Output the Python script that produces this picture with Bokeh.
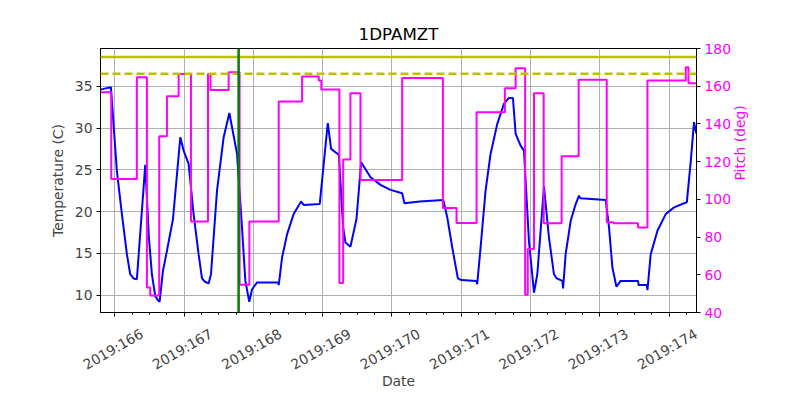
import math
import numpy as np
from bokeh.plotting import figure
from bokeh.models import Range1d, LinearAxis, FixedTicker, Span
from bokeh.embed import file_html
from bokeh.resources import INLINE

# ---------------- data ----------------
title_text = "1DPAMZT"

temp_days = [165.792, 165.942, 166.028, 166.101, 166.173, 166.221, 166.269, 166.317,
             166.38, 166.438, 166.49, 166.534, 166.582, 166.62, 166.645,
             166.694, 166.751, 166.838, 166.944, 166.992, 167.064, 167.136, 167.208,
             167.257, 167.30, 167.353, 167.387, 167.474, 167.57, 167.652, 167.763,
             167.835, 167.883, 167.94, 167.98, 168.05, 168.2, 168.36, 168.365,
             168.413, 168.486, 168.58, 168.688, 168.726, 168.957, 169.073, 169.121,
             169.232, 169.295, 169.328, 169.40, 169.487, 169.555, 169.69, 169.834,
             169.978, 170.147, 170.18, 170.40, 170.74, 170.798, 170.87, 170.951,
             171.0, 171.221, 171.23, 171.279, 171.351, 171.423, 171.52, 171.616,
             171.688, 171.746, 171.785, 171.857, 171.905, 171.977, 172.05, 172.098,
             172.194, 172.266, 172.338, 172.378, 172.46, 172.47, 172.507, 172.58,
             172.652, 172.70, 172.72, 173.085, 173.133, 173.182, 173.24, 173.30,
             173.552, 173.56, 173.68, 173.688, 173.735, 173.832, 173.952, 174.072,
             174.217, 174.256, 174.314, 174.36, 174.396]
temp_vals = [34.6, 34.9, 24.9, 19.7, 14.9, 12.5, 12.0, 11.9,
             19.0, 25.6, 17.0, 12.5, 9.9, 9.4, 9.2,
             12.9, 15.3, 19.1, 28.9, 27.3, 25.7, 19.7, 14.9,
             12.0, 11.6, 11.4, 12.5, 22.5, 28.9, 31.8, 26.9,
             18.1, 11.7, 9.2, 10.7, 11.5, 11.5, 11.5, 11.2,
             14.5, 17.3, 19.7, 21.2, 20.8, 20.9, 30.6, 27.5,
             26.8, 18.1, 16.3, 15.8, 19.1, 25.9, 24.1, 23.2,
             22.6, 22.2, 21.0, 21.2, 21.4, 19.3, 15.7, 12.0,
             11.8, 11.7, 11.3, 15.7, 22.5, 26.9, 30.5, 32.9,
             33.6, 33.6, 29.3, 27.9, 27.3, 16.5, 10.3, 12.5,
             23.0, 16.9, 12.5, 12.0, 11.7, 10.8, 14.9, 18.9,
             20.9, 21.9, 21.6, 21.4, 18.1, 13.3, 11.0, 11.7,
             11.7, 11.2, 11.2, 10.6, 14.9, 17.7, 19.7, 20.5,
             21.0, 21.1, 26.1, 30.7, 29.3]

pitch_days = [165.792, 165.947, 166.317, 166.462, 166.51, 166.64, 166.751, 166.92,
              167.098, 167.344, 167.38, 167.642, 167.80, 167.941, 168.365, 168.702,
              168.943, 168.98, 169.241, 169.295, 169.40, 169.545, 170.147, 170.735,
              170.932, 171.221, 171.63, 171.785, 171.922, 171.96, 172.05, 172.19,
              172.449, 172.695, 173.10, 173.20, 173.552, 173.688, 174.241, 174.28,
              174.396]
pitch_vals = [156.8, 110.8, 164.8, 53.3, 49.0, 133.5, 154.7, 166.5,
              88.2, 166.5, 158.0, 167.4, 54.7, 88.2, 151.9, 165.1,
              163.0, 158.2, 55.6, 121.1, 156.3, 110.2, 164.4, 95.4,
              87.5, 146.2, 158.9, 169.5, 49.4, 73.7, 156.3, 87.3,
              122.8, 163.4, 87.8, 87.3, 85.1, 163.0, 170.1, 161.6,
              161.6]

yellow_limit = 38.5
planning_limit = 36.5
event_day = 167.786

tick_days = [166, 167, 168, 169, 170, 171, 172, 173, 174]
tick_labels = ["2019:166", "2019:167", "2019:168", "2019:169", "2019:170",
               "2019:171", "2019:172", "2019:173", "2019:174"]
temp_ticks = [10, 15, 20, 25, 30, 35]
pitch_ticks = [40, 60, 80, 100, 120, 140, 160, 180]

# ---------------- figure ----------------
FONT = "DejaVu Sans"
FS = "13.9px"
X0, X1 = 165.792, 174.396
Y0, Y1 = 7.92, 39.52
PX_PER_DAY = 596 / (X1 - X0)
LABEL_SHIFT = 27.0 / PX_PER_DAY   # centre rotated labels on their ticks

p = figure(frame_width=596, frame_height=264,
           x_range=Range1d(X0, X1), y_range=Range1d(Y0, Y1),
           output_backend="svg", toolbar_location=None,
           min_border_left=100, min_border_right=88,
           min_border_top=48, min_border_bottom=72)
p.background_fill_color = "white"
p.border_fill_color = "white"
p.outline_line_color = "black"
p.outline_line_width = 1

p.title.text = title_text
p.title.align = "center"
p.title.text_font = FONT
p.title.text_font_size = "16.7px"
p.title.text_font_style = "normal"
p.title.text_color = "black"

minor = list(np.arange(165.75, 174.5001, 0.25))
p.xaxis.ticker = FixedTicker(ticks=tick_days, minor_ticks=minor)
p.xaxis.major_label_overrides = {d: "" for d in tick_days}

p.yaxis.ticker = FixedTicker(ticks=temp_ticks)
p.yaxis.axis_label = "Temperature (C)"

p.extra_y_ranges = {"pitch": Range1d(40, 180)}
raxis = LinearAxis(y_range_name="pitch", axis_label="Pitch (deg)",
                   ticker=FixedTicker(ticks=pitch_ticks))
p.add_layout(raxis, "right")

# label axis: same ticks, range shifted so rotated labels are centred on ticks
p.extra_x_ranges = {"labels": Range1d(X0 - LABEL_SHIFT, X1 - LABEL_SHIFT)}
laxis = LinearAxis(x_range_name="labels", ticker=FixedTicker(ticks=tick_days),
                   axis_label="Date")
laxis.major_label_overrides = {d: l for d, l in zip(tick_days, tick_labels)}
laxis.major_label_orientation = math.pi / 6
p.add_layout(laxis, "below")

for ax in [p.xaxis[0], p.yaxis[0], raxis, laxis]:
    ax.major_label_text_font = FONT
    ax.major_label_text_font_size = FS
    ax.axis_label_text_font = FONT
    ax.axis_label_text_font_size = FS
    ax.axis_label_text_font_style = "normal"
    ax.major_tick_in = 0
    ax.major_tick_out = 4
    ax.minor_tick_in = 0
    ax.minor_tick_out = 2
    ax.axis_line_color = "black"
    ax.major_tick_line_color = "black"
    ax.minor_tick_line_color = "black"
    ax.major_label_standoff = 4
    ax.axis_label_standoff = 6

p.xaxis[0].major_label_standoff = 0
laxis.axis_line_color = None
laxis.major_tick_line_color = None
laxis.minor_tick_line_color = None
laxis.major_tick_out = 0
laxis.minor_tick_out = 0
laxis.major_label_standoff = 16
laxis.axis_label_standoff = -10

raxis.major_label_text_color = "#ff00ff"
raxis.axis_label_text_color = "#ff00ff"
if "axis_label_orientation" in LinearAxis.properties():
    raxis.axis_label_orientation = math.pi / 2
p.yaxis[0].minor_tick_line_color = None
raxis.minor_tick_line_color = None

p.xgrid.grid_line_color = "#b0b0b0"
p.ygrid.grid_line_color = "#b0b0b0"
p.xgrid.grid_line_width = 1
p.ygrid.grid_line_width = 1

# ---------------- glyphs ----------------
p.line(temp_days, temp_vals, line_color="#0000ff", line_width=2)

p.add_layout(Span(location=yellow_limit, dimension="width",
                  line_color="#bfbf00", line_width=2.5))
p.add_layout(Span(location=planning_limit, dimension="width",
                  line_color="#bfbf00", line_width=2.5, line_dash="8 4"))
p.add_layout(Span(location=event_day, dimension="height",
                  line_color="#008000", line_width=2.5))

p.step(pitch_days, pitch_vals, mode="after", line_color="#ff00ff",
       line_width=2, y_range_name="pitch")

open("out.html", "w").write(file_html(p, INLINE))
